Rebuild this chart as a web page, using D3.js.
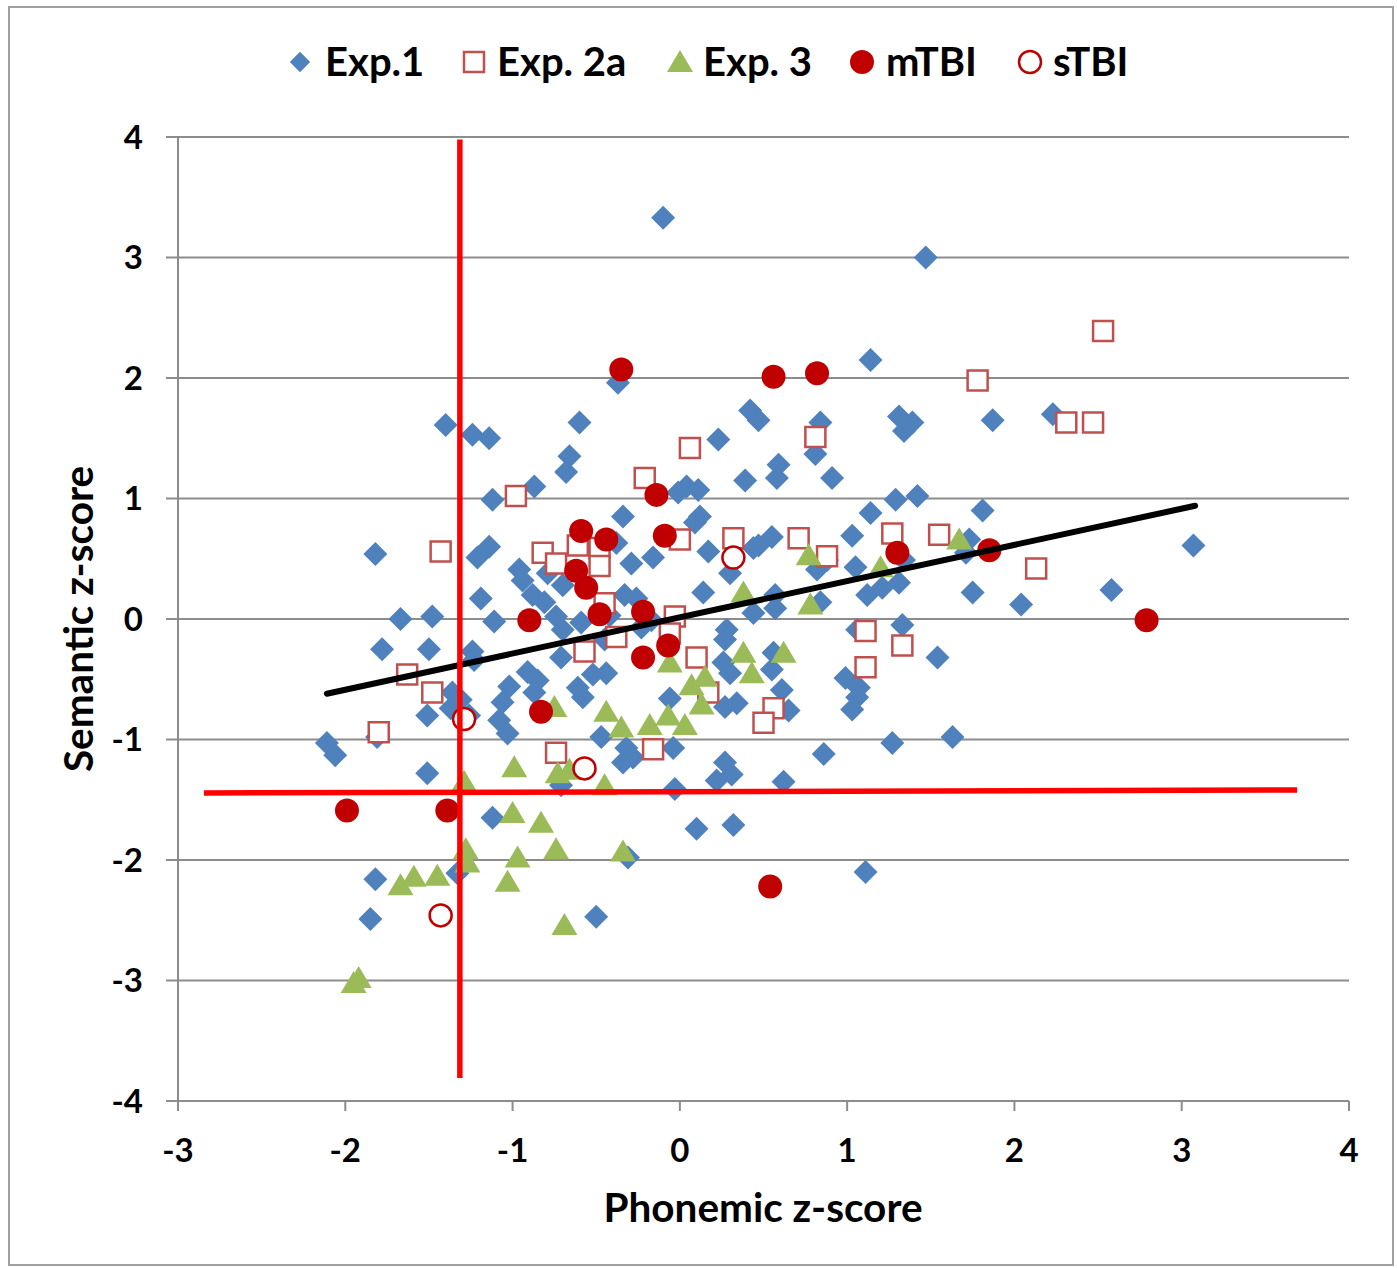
<!DOCTYPE html>
<html><head><meta charset="utf-8">
<script src="https://cdn.jsdelivr.net/npm/d3@7"></script>
<style>html,body{margin:0;padding:0;background:#fff;}</style>
</head><body>
<script>
// ---- DATA ----
const seriesNames = ["Exp.1", "Exp. 2a", "Exp. 3", "mTBI", "sTBI"];
const xTicks = [-3, -2, -1, 0, 1, 2, 3, 4];
const yTicks = [-4, -3, -2, -1, 0, 1, 2, 3, 4];
const xTitle = "Phonemic z-score";
const yTitle = "Semantic z-score";

const exp1 = [
[-0.10,3.33],[1.47,3.00],[1.14,2.15],[-0.37,1.96],[-1.40,1.61],[-1.24,1.53],[-1.14,1.50],[-0.60,1.63],
[0.42,1.73],[0.47,1.65],[0.23,1.49],[0.84,1.63],[1.31,1.68],[1.39,1.63],[1.34,1.56],[1.87,1.65],[2.23,1.70],
[0.81,1.37],[-0.66,1.35],[-0.68,1.22],[0.59,1.28],[0.58,1.17],[0.39,1.15],[0.91,1.17],[-0.87,1.10],[-1.12,0.99],
[-0.01,1.05],[0.04,1.10],[0.11,1.07],[1.42,1.02],[1.29,0.99],[-0.34,0.85],[0.12,0.85],[0.09,0.80],[1.14,0.88],
[1.81,0.90],[1.03,0.69],[0.55,0.68],[0.47,0.61],[0.44,0.59],[0.17,0.56],[-0.16,0.51],[-0.29,0.46],[-0.38,0.63],
[-1.14,0.60],[-1.21,0.51],[-1.82,0.54],[-0.96,0.41],[-0.94,0.32],[-0.79,0.38],[-0.88,0.20],[-0.81,0.14],[-0.70,0.28],
[-0.33,0.20],[-0.26,0.17],[0.14,0.22],[0.30,0.38],[0.57,0.20],[0.57,0.09],[0.44,0.05],[0.82,0.41],[0.84,0.14],
[0.88,0.49],[1.05,0.43],[1.12,0.20],[1.21,0.26],[1.31,0.30],[1.34,0.49],[1.73,0.66],[1.71,0.55],[1.75,0.22],
[2.04,0.12],[2.58,0.24],[3.07,0.61],[-1.19,0.17],[-1.67,0.00],[-1.48,0.02],[-1.11,-0.02],[-0.74,0.02],[-0.70,-0.09],
[-0.59,-0.03],[-0.42,0.03],[-0.23,-0.07],[0.28,-0.09],[1.06,-0.09],[1.33,-0.05],[-1.78,-0.25],[-1.50,-0.25],
[-1.24,-0.27],[-1.23,-0.34],[-0.71,-0.32],[-0.91,-0.44],[-0.85,-0.51],[-1.02,-0.56],[-1.06,-0.69],[-1.08,-0.84],
[-1.03,-0.95],[-0.87,-0.61],[-0.61,-0.57],[-0.58,-0.65],[-0.52,-0.46],[-0.44,-0.45],[-0.47,-0.98],[-0.32,-1.07],
[-0.34,-1.19],[-0.28,-1.15],[-0.04,-1.07],[-0.06,-0.66],[0.26,-0.36],[0.30,-0.45],[0.27,-0.17],[0.27,-0.73],
[0.34,-0.70],[0.56,-0.28],[0.55,-0.42],[0.61,-0.59],[0.65,-0.76],[0.27,-1.19],[0.31,-1.29],[0.22,-1.34],
[0.62,-1.35],[-0.03,-1.41],[0.10,-1.74],[0.32,-1.71],[0.86,-1.12],[1.27,-1.03],[1.63,-0.98],[0.99,-0.49],
[1.07,-0.57],[1.06,-0.65],[1.03,-0.75],[1.54,-0.32],[-1.36,-0.61],[-1.37,-0.74],[-1.26,-0.80],[-1.51,-0.80],
[-2.11,-1.03],[-2.06,-1.13],[-1.81,-0.98],[-1.51,-1.28],[-1.12,-1.65],[-1.82,-2.16],[-1.85,-2.49],[-1.33,-2.11],
[-0.31,-1.98],[-0.50,-2.47],[1.11,-2.10],[-0.71,-1.38],[-0.45,-0.17],[-0.17,-0.01],[-1.31,-0.67]
];
const exp2a = [
[2.53,2.39],[1.78,1.98],[2.31,1.63],[2.47,1.63],[0.81,1.51],[0.06,1.42],[-0.21,1.17],[-0.98,1.02],[-1.43,0.56],
[-0.82,0.55],[-0.74,0.46],[-0.61,0.61],[-0.48,0.59],[-0.48,0.44],[2.13,0.42],[1.55,0.70],[1.27,0.71],[0.88,0.52],
[0.32,0.67],[0.71,0.67],[0.00,0.66],[-0.45,0.13],[-0.03,0.02],[-0.38,-0.15],[-0.57,-0.27],[-0.06,-0.12],[0.10,-0.32],
[1.11,-0.10],[1.11,-0.40],[1.33,-0.22],[-1.63,-0.46],[-1.48,-0.61],[-1.80,-0.94],[-0.74,-1.11],[-0.16,-1.08],
[0.17,-0.61],[0.56,-0.74],[0.50,-0.86]
];
const exp3 = [
[1.67,0.66],[1.20,0.43],[0.77,0.53],[0.78,0.12],[0.38,0.22],[0.62,-0.28],[0.38,-0.28],[0.43,-0.45],[0.15,-0.48],
[0.07,-0.55],[0.13,-0.71],[0.03,-0.88],[-0.07,-0.80],[-0.18,-0.88],[-0.06,-0.36],[-0.35,-0.90],[-0.44,-0.77],
[-0.75,-0.73],[-0.73,-1.28],[-0.66,-1.25],[-0.99,-1.23],[-0.45,-1.38],[-1.29,-1.35],[-1.00,-1.61],[-0.83,-1.69],
[-0.74,-1.91],[-0.97,-1.98],[-1.03,-2.18],[-1.28,-1.91],[-1.27,-2.02],[-1.45,-2.13],[-1.59,-2.14],[-1.67,-2.21],
[-0.69,-2.54],[-0.34,-1.93],[-1.92,-2.98],[-1.95,-3.02]
];
const mTBI = [
[-0.35,2.07],[0.56,2.01],[0.82,2.04],[-0.14,1.03],[-0.59,0.73],[-0.44,0.66],[-0.09,0.69],[-0.62,0.40],[-0.56,0.26],
[-0.90,-0.01],[-0.48,0.04],[-0.22,0.06],[-0.07,-0.22],[-0.22,-0.32],[-0.83,-0.77],[1.30,0.55],[1.85,0.57],
[2.79,-0.01],[-1.99,-1.59],[-1.39,-1.59],[0.54,-2.22]
];
const sTBI = [[0.32,0.51],[-1.29,-0.83],[-0.57,-1.24],[-1.43,-2.46]];

// trend line and cutoff lines (endpoints in data units)
const trendX = [-2.11, 3.08], trendY = [-0.62, 0.94];
const cutVX = [-1.315, -1.315], cutVY = [3.98, -3.81];
const cutHX = [-2.845, 3.69], cutHY = [-1.444, -1.419];

// ---- DRAW ----
const W = 1397, H = 1268;
const svg = d3.select("body").append("svg").attr("width", W).attr("height", H)
  .style("font-family", "Lato, 'Open Sans', sans-serif");

svg.append("rect").attr("x", 9).attr("y", 7).attr("width", 1384).attr("height", 1258)
  .attr("fill", "#fff").attr("stroke", "#a0a0a0").attr("stroke-width", 2);

const x = d3.scaleLinear().domain([-3, 4]).range([178, 1349]);
const y = d3.scaleLinear().domain([-4, 4]).range([1101, 137]);
const gridColor = "#8c8c8c";

svg.append("g").selectAll("line").data(yTicks).join("line")
  .attr("x1", x(-3) - 12).attr("x2", x(4)).attr("y1", d => y(d)).attr("y2", d => y(d))
  .attr("stroke", gridColor).attr("stroke-width", 2);
svg.append("line").attr("x1", x(-3)).attr("x2", x(-3)).attr("y1", y(4)).attr("y2", y(-4))
  .attr("stroke", gridColor).attr("stroke-width", 2);
svg.append("g").selectAll("line").data(xTicks).join("line")
  .attr("x1", d => x(d)).attr("x2", d => x(d)).attr("y1", y(-4)).attr("y2", y(-4) + 10)
  .attr("stroke", gridColor).attr("stroke-width", 2);

svg.append("g").selectAll("text").data(yTicks).join("text")
  .attr("x", 143).attr("y", d => y(d)).attr("dy", "0.36em").attr("text-anchor", "end")
  .attr("font-size", 33).attr("font-weight", "bold").text(d => d);
svg.append("g").selectAll("text").data(xTicks).join("text")
  .attr("x", d => x(d)).attr("y", 1162).attr("text-anchor", "middle")
  .attr("font-size", 33).attr("font-weight", "bold").text(d => d);

svg.append("text").attr("x", 763).attr("y", 1222).attr("text-anchor", "middle")
  .attr("font-size", 40.5).attr("font-weight", "bold").text(xTitle);
svg.append("text").attr("transform", "translate(93,619) rotate(-90)").attr("text-anchor", "middle")
  .attr("font-size", 40.5).attr("font-weight", "bold").text(yTitle);

const diamond = "M0,-12L12,0L0,12L-12,0Z";
const square = "M-10,-10H10V10H-10Z";
const triangle = "M0,-12L13,10H-13Z";

const styles = [
  {data: exp1, kind: "path", d: diamond, fill: "#4f81bd", stroke: "none"},
  {data: exp2a, kind: "path", d: square, fill: "#fff", stroke: "#c0504d", sw: 2.5},
  {data: exp3, kind: "path", d: triangle, fill: "#9bbb59", stroke: "none"},
  {data: mTBI, kind: "circle", r: 12, fill: "#c00000", stroke: "none"},
  {data: sTBI, kind: "circle", r: 11, fill: "#fff", stroke: "#c00000", sw: 2.5}
];
styles.forEach(s => {
  const g = svg.append("g");
  if (s.kind === "path") {
    g.selectAll("path").data(s.data).join("path")
      .attr("d", s.d).attr("transform", d => `translate(${x(d[0])},${y(d[1])})`)
      .attr("fill", s.fill).attr("stroke", s.stroke).attr("stroke-width", s.sw || 0);
  } else {
    g.selectAll("circle").data(s.data).join("circle")
      .attr("cx", d => x(d[0])).attr("cy", d => y(d[1])).attr("r", s.r)
      .attr("fill", s.fill).attr("stroke", s.stroke).attr("stroke-width", s.sw || 0);
  }
});

const line = d3.line().x(d => x(d[0])).y(d => y(d[1]));
svg.append("path").attr("d", line(d3.zip(trendX, trendY))).attr("stroke", "#000")
  .attr("stroke-width", 6).attr("stroke-linecap", "round").attr("fill", "none");
svg.append("path").attr("d", line(d3.zip(cutVX, cutVY))).attr("stroke", "#ff0000")
  .attr("stroke-width", 5.5).attr("fill", "none");
svg.append("path").attr("d", line(d3.zip(cutHX, cutHY))).attr("stroke", "#ff0000")
  .attr("stroke-width", 5.5).attr("fill", "none");

const legend = [
  {name: seriesNames[0], sx: 300, tx: 325, kind: "path", d: diamond, fill: "#4f81bd", stroke: "none", sc: 0.85},
  {name: seriesNames[1], sx: 474, tx: 497, kind: "path", d: square, fill: "#fff", stroke: "#c0504d", sw: 2.5, sc: 1},
  {name: seriesNames[2], sx: 680, tx: 703, kind: "path", d: triangle, fill: "#9bbb59", stroke: "none", sc: 1},
  {name: seriesNames[3], sx: 862, tx: 886, kind: "circle", r: 12, fill: "#c00000", stroke: "none"},
  {name: seriesNames[4], sx: 1030, tx: 1053, kind: "circle", r: 11, fill: "#fff", stroke: "#c00000", sw: 2.5}
];
const ly = 62;
legend.forEach(l => {
  if (l.kind === "path") {
    svg.append("path").attr("d", l.d).attr("transform", `translate(${l.sx},${ly}) scale(${l.sc})`)
      .attr("fill", l.fill).attr("stroke", l.stroke).attr("stroke-width", l.sw || 0);
  } else {
    svg.append("circle").attr("cx", l.sx).attr("cy", ly).attr("r", l.r)
      .attr("fill", l.fill).attr("stroke", l.stroke).attr("stroke-width", l.sw || 0);
  }
  svg.append("text").attr("x", l.tx).attr("y", ly).attr("dy", "0.36em")
    .attr("font-size", 40).attr("font-weight", "bold").text(l.name);
});
</script>
</body></html>
